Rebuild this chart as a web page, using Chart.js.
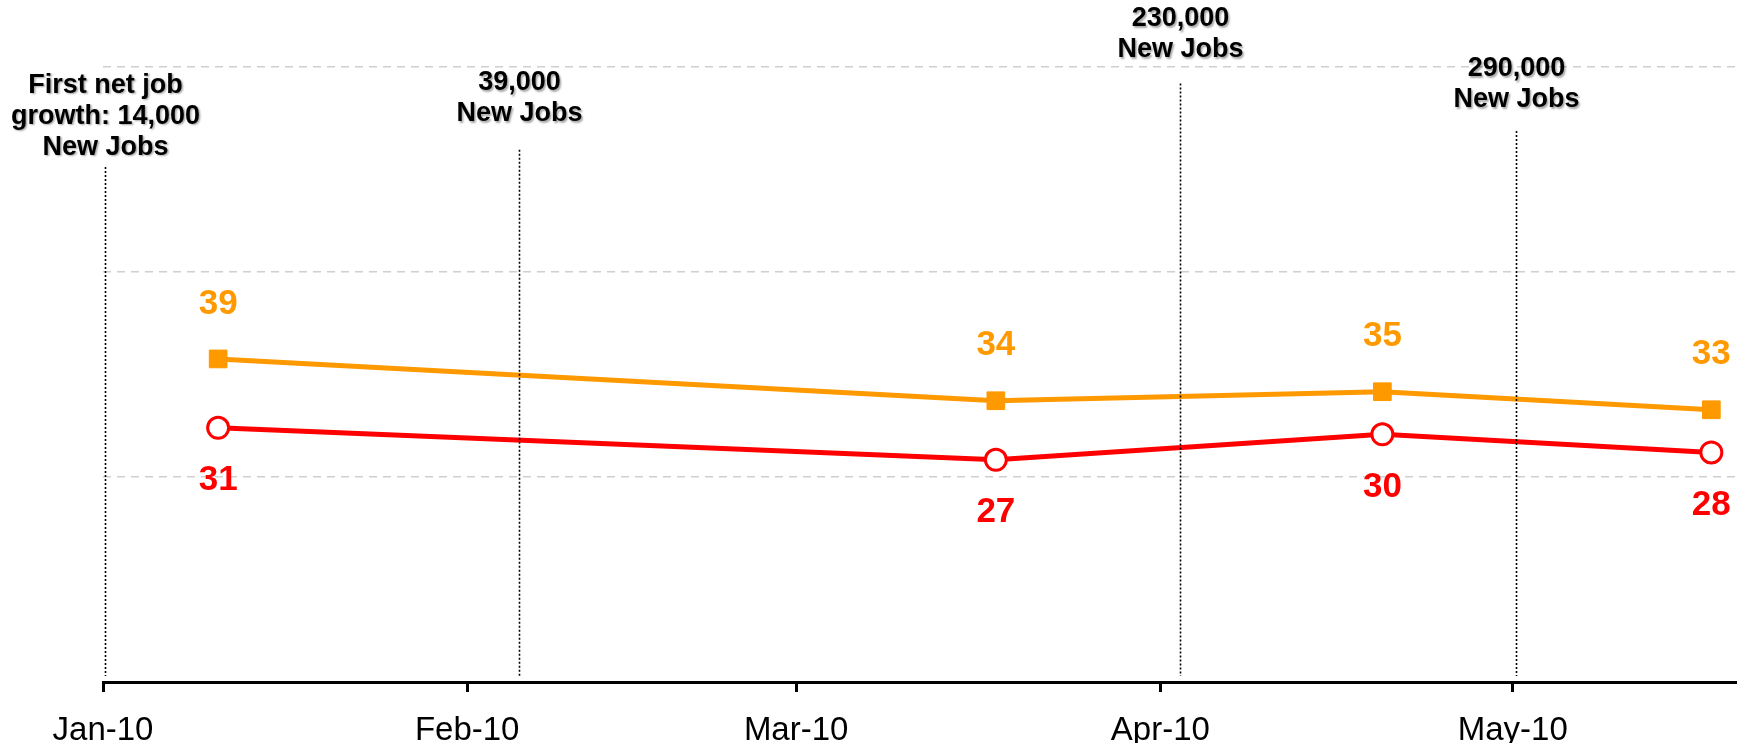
<!DOCTYPE html>
<html>
<head>
<meta charset="utf-8">
<script src="https://cdn.jsdelivr.net/npm/chart.js@4.4.1/dist/chart.umd.min.js"></script>
<style>
html, body { margin: 0; padding: 0; background: #fff; }
</style>
</head>
<body>
<canvas id="myChart" width="1741" height="743"></canvas>
<script>
// x values are days counted from Jan 1, 2010
const pointDays = [9.8, 76, 108.9, 136.9];
const orangeValues = [39.4, 34.3, 35.4, 33.2];
const redValues = [31.0, 27.1, 30.2, 28.0];
const orangeLabels = ['39', '34', '35', '33'];
const redLabels = ['31', '27', '30', '28'];

const monthDays = [0, 31, 59, 90, 120];
const monthLabels = ['Jan-10', 'Feb-10', 'Mar-10', 'Apr-10', 'May-10'];
const gridValues = [25, 50, 75];

// job report markers
const eventDays = [0.2, 35.4, 91.7, 120.3];
const eventLineTops = [62.8, 64.9, 73.0, 67.2];
const eventTextBase = [65.2, 69.3, 77.1, 71.0];
const eventTexts = [
    ['First net job', 'growth: 14,000', 'New Jobs'],
    ['39,000', 'New Jobs'],
    ['230,000', 'New Jobs'],
    ['290,000', 'New Jobs']
];

const ORANGE = '#FF9900';
const RED = '#FF0000';
const FONT = "'Liberation Sans', Arial, sans-serif";

const eventPlugin = {
    id: 'events',
    afterDatasetsDraw(chart) {
        const c = chart.ctx;
        const xs = chart.scales.x, ys = chart.scales.y;
        c.save();
        for (let i = 0; i < eventDays.length; i++) {
            const x = Math.round(xs.getPixelForValue(eventDays[i])) + 0.5;
            c.beginPath();
            c.setLineDash([2, 2]);
            c.lineWidth = 1.6;
            c.strokeStyle = '#000';
            c.moveTo(x, ys.getPixelForValue(eventLineTops[i]));
            c.lineTo(x, chart.chartArea.bottom - 6);
            c.stroke();

            c.setLineDash([]);
            c.font = 'bold 27px ' + FONT;
            c.fillStyle = '#000';
            c.textAlign = 'center';
            c.textBaseline = 'middle';
            c.shadowColor = 'rgba(0,0,0,0.35)';
            c.shadowOffsetX = 1.5;
            c.shadowOffsetY = 1.5;
            c.shadowBlur = 2;
            const lines = eventTexts[i];
            const base = ys.getPixelForValue(eventTextBase[i]);
            for (let j = 0; j < lines.length; j++) {
                c.fillText(lines[j], x, base - (lines.length - 1 - j) * 31);
            }
            c.shadowColor = 'transparent';
        }
        c.restore();
    }
};

const labelPlugin = {
    id: 'pointLabels',
    afterDatasetsDraw(chart) {
        const c = chart.ctx;
        c.save();
        c.font = 'bold 35px ' + FONT;
        c.textAlign = 'center';
        c.textBaseline = 'middle';
        chart.getDatasetMeta(0).data.forEach((p, i) => {
            c.fillStyle = ORANGE;
            c.fillText(orangeLabels[i], p.x, p.y - 55);
        });
        chart.getDatasetMeta(1).data.forEach((p, i) => {
            c.fillStyle = RED;
            c.fillText(redLabels[i], p.x, p.y + 53);
        });
        c.restore();
    }
};

const ctx = document.getElementById('myChart');
new Chart(ctx, {
    type: 'line',
    data: {
        datasets: [{
            label: 'Series 1',
            data: pointDays.map((d, i) => ({ x: d, y: orangeValues[i] })),
            borderColor: ORANGE,
            borderWidth: 5,
            pointStyle: 'rect',
            pointRadius: 12.5,
            pointBackgroundColor: ORANGE,
            pointBorderColor: ORANGE,
            pointBorderWidth: 1
        }, {
            label: 'Series 2',
            data: pointDays.map((d, i) => ({ x: d, y: redValues[i] })),
            borderColor: RED,
            borderWidth: 5,
            pointStyle: 'circle',
            pointRadius: 10.5,
            pointBackgroundColor: '#fff',
            pointBorderColor: RED,
            pointBorderWidth: 3
        }]
    },
    options: {
        responsive: false,
        animation: false,
        layout: { autoPadding: false, padding: { left: 103, right: 5, top: 26, bottom: 0 } },
        plugins: {
            legend: { display: false },
            tooltip: { enabled: false }
        },
        scales: {
            x: {
                type: 'linear',
                min: 0,
                max: 139,
                afterBuildTicks: s => { s.ticks = monthDays.map(v => ({ value: v })); },
                afterFit: s => {
                    s.height = 61;
                    s.paddingLeft = 0;
                    s.paddingRight = 0;
                },
                ticks: {
                    autoSkip: false,
                    maxRotation: 0,
                    padding: 19,
                    color: '#000',
                    font: { size: 33, family: FONT },
                    callback: v => monthLabels[monthDays.indexOf(v)]
                },
                grid: {
                    drawOnChartArea: false,
                    drawTicks: true,
                    tickLength: 10,
                    tickWidth: 3,
                    tickColor: '#000'
                },
                border: { display: true, color: '#000', width: 3 }
            },
            y: {
                min: 0,
                max: 80,
                afterBuildTicks: s => { s.ticks = gridValues.map(v => ({ value: v })); },
                afterFit: s => { s.width = 0; },
                ticks: { display: false },
                grid: { color: '#cfcfcf', lineWidth: 1.5, drawTicks: false },
                border: { display: false, dash: [8, 6] }
            }
        }
    },
    plugins: [eventPlugin, labelPlugin]
});
</script>
</body>
</html>
